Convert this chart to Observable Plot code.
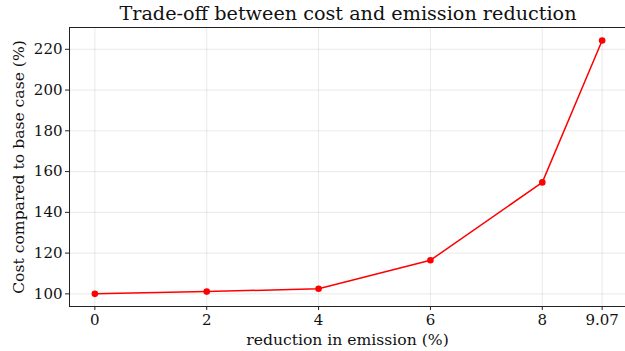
<!DOCTYPE html>
<html>
<head>
<meta charset="utf-8">
<script src="https://cdn.jsdelivr.net/npm/d3@7"></script>
<script src="https://cdn.jsdelivr.net/npm/@observablehq/plot@0.6"></script>
<style>
  html, body { margin: 0; padding: 0; background: #fff; }
  #title { font-family: "DejaVu Serif", serif; font-size: 19.2px; color: #111; width: 558px; margin-left: 69px; text-align: center; height: 26px; line-height: 26px; padding-top: 1px; box-sizing: border-box; white-space: nowrap; }
  #chart svg, #chart svg text { font-family: "DejaVu Serif", serif !important; }
</style>
</head>
<body>
<div id="title">Trade-off between cost and emission reduction</div>
<div id="chart"></div>
<script>
const reduction = [0, 2, 4, 6, 8, 9.07];
const cost = [100, 101.1, 102.5, 116.5, 154.7, 224.3];
const xTicks = [0, 2, 4, 6, 8, 9.07];
const yTicks = [100, 120, 140, 160, 180, 200, 220];
const xLabel = "reduction in emission (%)";
const yLabel = "Cost compared to base case (%)";

const data = reduction.map((r, i) => ({x: r, y: cost[i]}));
const FF = "DejaVu Serif, serif";

const chart = Plot.plot({
  width: 625,
  height: 325,
  marginTop: 1,
  marginLeft: 69,
  marginRight: 0,
  marginBottom: 45,
  style: "font-family: 'DejaVu Serif', serif; font-size: 15px; color: #111; background: #fff;",
  x: {domain: [-0.4535, 9.5235], range: [69, 627]},
  y: {domain: [93.8, 230.7], range: [280, 1]},
  marks: [
    Plot.gridX(xTicks, {stroke: "#b0b0b0", strokeOpacity: 0.35, strokeWidth: 0.8}),
    Plot.gridY(yTicks, {stroke: "#b0b0b0", strokeOpacity: 0.35, strokeWidth: 0.8}),
    Plot.ruleX([-0.4535], {stroke: "#222", strokeWidth: 1}),
    Plot.ruleY([93.8], {stroke: "#222", strokeWidth: 1}),
    Plot.ruleY([230.7], {stroke: "#222", strokeWidth: 1}),
    Plot.axisX(xTicks, {tickSize: 4, tickPadding: 4, tickFormat: d => String(d), label: null, stroke: "#222", fontSize: 15, fontFamily: FF}),
    Plot.axisY(yTicks, {tickSize: 4, tickPadding: 3, label: null, stroke: "#222", fontSize: 15, fontFamily: FF}),
    Plot.line(data, {x: "x", y: "y", stroke: "#ff0000", strokeWidth: 1.5}),
    Plot.dot(data, {x: "x", y: "y", r: 3.3, fill: "#ff0000", stroke: "none"}),
    Plot.text([xLabel], {frameAnchor: "bottom", text: d => d, dy: 38, fontSize: 15.6, fontFamily: FF, fill: "#111"}),
    Plot.text([yLabel], {frameAnchor: "left", text: d => d, rotate: -90, textAnchor: "middle", dx: -51, fontSize: 15.6, fontFamily: FF, fill: "#111"})
  ]
});
document.getElementById("chart").appendChild(chart);
</script>
</body>
</html>
